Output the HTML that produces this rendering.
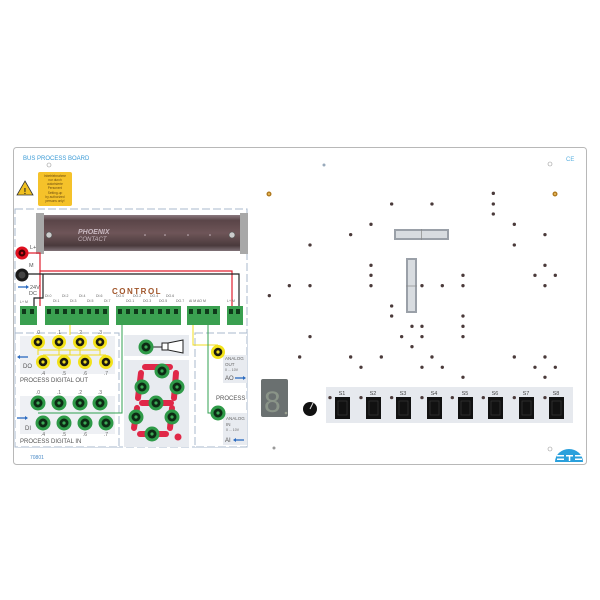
<!DOCTYPE html>
<html><head><meta charset="utf-8"><style>
html,body{margin:0;padding:0;background:#fff;width:600px;height:600px;overflow:hidden}
svg{display:block}
text{font-family:"Liberation Sans",sans-serif}
</style></head><body>
<svg width="600" height="600" viewBox="0 0 600 600" xmlns="http://www.w3.org/2000/svg">
<defs>
<linearGradient id="rail" x1="0" y1="0" x2="0" y2="1">
<stop offset="0" stop-color="#8c7a80"/><stop offset="0.15" stop-color="#5a4548"/><stop offset="0.5" stop-color="#6e5558"/><stop offset="0.85" stop-color="#4a3a3c"/><stop offset="1" stop-color="#807278"/>
</linearGradient>
<g id="jy"><circle r="7" fill="#f2e21a"/><circle r="4.3" fill="#1a1a10"/><circle r="1.6" fill="#e8d820"/></g>
<g id="jg"><circle r="7.5" fill="#2e9a48"/><circle r="4.5" fill="#0d2a14"/><circle r="1.6" fill="#3aa855"/></g>
</defs>
<!-- board -->
<rect x="13.5" y="147.5" width="573" height="317" rx="3" fill="#fff" stroke="#b8b8b8" stroke-width="1"/>
<text x="23" y="160" font-size="6" fill="#3a9ad6">BUS PROCESS BOARD</text>
<text x="566" y="161" font-size="6" fill="#5ab0e0">CE</text>
<text x="30" y="459" font-size="5" fill="#4a8ac6">70801</text>
<circle cx="49" cy="165" r="2" fill="none" stroke="#999" stroke-width="0.6"/>
<circle cx="324" cy="165" r="1.5" fill="#9ab"/>
<circle cx="550" cy="164" r="2" fill="none" stroke="#999" stroke-width="0.6"/>
<circle cx="274" cy="448" r="1.5" fill="#999"/>
<circle cx="550" cy="449" r="2" fill="none" stroke="#999" stroke-width="0.6"/>
<!-- warning -->
<polygon points="25,181 33,195 17,195" fill="#f0c020" stroke="#333" stroke-width="0.8"/>
<text x="25" y="194" font-size="8" text-anchor="middle" font-weight="bold" fill="#222">!</text>
<rect x="38" y="172" width="34" height="34" rx="2" fill="#f5c22a"/>
<g font-size="3.2" fill="#6a4a10" text-anchor="middle">
<text x="55" y="177">Inbetriebnahme</text><text x="55" y="181">nur durch</text><text x="55" y="185">autorisierte</text><text x="55" y="189">Personen!</text><text x="55" y="194">Setting-up</text><text x="55" y="198">by authorized</text><text x="55" y="202">persons only!</text>
</g>
<!-- control area dashed -->
<rect x="15" y="209" width="232" height="238" fill="#fff" stroke="#a8b8cc" stroke-width="1" stroke-dasharray="8,3"/>
<!-- rail -->
<rect x="43" y="215" width="198" height="36" fill="url(#rail)"/>
<rect x="36" y="213" width="8" height="41" fill="#a8a8a8"/>
<rect x="240" y="213" width="8" height="41" fill="#a8a8a8"/>
<circle cx="49" cy="235" r="3" fill="#ccc" stroke="#555" stroke-width="0.6"/>
<circle cx="232" cy="235" r="3" fill="#ccc" stroke="#555" stroke-width="0.6"/>
<text x="78" y="234" font-size="7" fill="#c8b8c0" font-weight="bold" font-style="italic">PHOENIX</text>
<text x="78" y="241" font-size="6" fill="#c8b8c0" font-style="italic">CONTACT</text>
<g fill="#c8b8c0"><circle cx="145" cy="235" r="0.8"/><circle cx="165" cy="235" r="0.8"/><circle cx="188" cy="235" r="0.8"/><circle cx="210" cy="235" r="0.8"/></g>
<!-- power jacks -->
<text x="30" y="249" font-size="5.5" fill="#555">L+</text>
<text x="29" y="267" font-size="5.5" fill="#555">M</text>
<path d="M22,253 H40 V306" fill="none" stroke="#e02030" stroke-width="1.2"/>
<path d="M40,271 H232 V306" fill="none" stroke="#e02030" stroke-width="1.2"/>
<path d="M22,274 H239 V306" fill="none" stroke="#222" stroke-width="1.2"/>
<path d="M43,274 V298 H34 V306" fill="none" stroke="#222" stroke-width="1.2"/>
<circle cx="22" cy="253" r="6.5" fill="#e01020"/><circle cx="22" cy="253" r="3.5" fill="#400"/><circle cx="22" cy="253" r="1.3" fill="#e01020"/>
<circle cx="22" cy="275" r="6.5" fill="#1a1a1a"/><circle cx="22" cy="275" r="3.5" fill="#444"/>
<path d="M18,287 H26" stroke="#2a6ac0" stroke-width="1.3"/><polygon points="26,285 29,287 26,289" fill="#2a6ac0"/>
<text x="30" y="289" font-size="5.5" fill="#555">24V</text><text x="29" y="295" font-size="5.5" fill="#555">DC</text>
<text x="112" y="294" font-size="8" font-weight="bold" fill="#a0552a" letter-spacing="1.5">CONTROL</text>
<!-- terminal labels -->
<g font-size="3.5" fill="#666">
<text x="20" y="303">L+ M</text>
<text x="45" y="297">DI.0</text><text x="62" y="297">DI.2</text><text x="79" y="297">DI.4</text><text x="96" y="297">DI.6</text>
<text x="53" y="302">DI.1</text><text x="70" y="302">DI.3</text><text x="87" y="302">DI.5</text><text x="104" y="302">DI.7</text>
<text x="116" y="297">DO.0</text><text x="133" y="297">DO.2</text><text x="150" y="297">DO.4</text><text x="166" y="297">DO.6</text>
<text x="126" y="302">DO.1</text><text x="143" y="302">DO.3</text><text x="159" y="302">DO.5</text><text x="176" y="302">DO.7</text>
<text x="189" y="302">AI  M  AO  M</text><text x="227" y="302">L+ M</text>
</g>
<!-- terminals -->
<g fill="#3aa050">
<rect x="20" y="306" width="17" height="19"/><rect x="45" y="306" width="64" height="19"/><rect x="116" y="306" width="65" height="19"/><rect x="187" y="306" width="33" height="19"/><rect x="227" y="306" width="16" height="19"/>
</g>
<g fill="#0f3a1a">
<rect x="22" y="309" width="4" height="5"/><rect x="30" y="309" width="4" height="5"/>
<rect x="47" y="309" width="4" height="5"/><rect x="55" y="309" width="4" height="5"/><rect x="63" y="309" width="4" height="5"/><rect x="71" y="309" width="4" height="5"/><rect x="79" y="309" width="4" height="5"/><rect x="87" y="309" width="4" height="5"/><rect x="95" y="309" width="4" height="5"/><rect x="103" y="309" width="4" height="5"/>
<rect x="118" y="309" width="4" height="5"/><rect x="126" y="309" width="4" height="5"/><rect x="134" y="309" width="4" height="5"/><rect x="142" y="309" width="4" height="5"/><rect x="150" y="309" width="4" height="5"/><rect x="158" y="309" width="4" height="5"/><rect x="166" y="309" width="4" height="5"/><rect x="174" y="309" width="4" height="5"/>
<rect x="189" y="309" width="4" height="5"/><rect x="197" y="309" width="4" height="5"/><rect x="205" y="309" width="4" height="5"/><rect x="213" y="309" width="4" height="5"/>
<rect x="229" y="309" width="4" height="5"/><rect x="236" y="309" width="4" height="5"/>
</g>
<!-- lower panels -->
<rect x="15" y="333" width="104" height="114" fill="#fff" stroke="#a8b8cc" stroke-dasharray="8,3"/>
<rect x="20" y="336" width="95" height="38" fill="#eef0f4"/>
<rect x="20" y="396" width="95" height="38" fill="#eef0f4"/>
<rect x="124" y="335" width="65" height="21" fill="#e8ebf0"/>
<rect x="124" y="360" width="65" height="87" fill="#e8ebf0"/>
<rect x="195" y="333" width="52" height="114" fill="#fff" stroke="#a8b8cc" stroke-dasharray="8,3"/>
<rect x="223" y="355" width="24" height="28" fill="#e8ebf0"/>
<rect x="223" y="413" width="24" height="32" fill="#e8ebf0"/>
<!-- wires lower -->
<path d="M70,325 V335 M38,350 H100 M43,355 H106 M70,350 V355" stroke="#f0dc20" stroke-width="1" fill="none"/>
<path d="M38,342 V355 M59,342 V355 M80,342 V355 M100,342 V355" stroke="#f0dc20" stroke-width="1"/>
<path d="M193,325 V345 H218" stroke="#f0dc20" stroke-width="1" fill="none"/>
<path d="M208,325 V413 H218" stroke="#30a050" stroke-width="1" fill="none"/>
<path d="M122,325 V413 H38" stroke="#30a050" stroke-width="1" fill="none"/>
<!-- DO/DI labels -->
<g font-size="5" fill="#666" text-anchor="middle">
<text x="38" y="334">.0</text><text x="59" y="334">.1</text><text x="80" y="334">.2</text><text x="100" y="334">.3</text>
<text x="43" y="375">.4</text><text x="64" y="375">.5</text><text x="85" y="375">.6</text><text x="106" y="375">.7</text>
<text x="38" y="394">.0</text><text x="59" y="394">.1</text><text x="80" y="394">.2</text><text x="100" y="394">.3</text>
<text x="43" y="436">.4</text><text x="64" y="436">.5</text><text x="85" y="436">.6</text><text x="106" y="436">.7</text>
</g>
<path d="M20,357 H28" stroke="#2a6ac0" stroke-width="1.3"/><polygon points="20,355 17,357 20,359" fill="#2a6ac0"/>
<text x="23" y="368" font-size="6" fill="#555">DO</text>
<text x="20" y="382" font-size="6" fill="#555">PROCESS DIGITAL OUT</text>
<path d="M17,418 H25" stroke="#2a6ac0" stroke-width="1.3"/><polygon points="25,416 28,418 25,420" fill="#2a6ac0"/>
<text x="25" y="430" font-size="6" fill="#555">DI</text>
<text x="20" y="443" font-size="6" fill="#555">PROCESS DIGITAL IN</text>
<use href="#jy" x="38" y="342"/><use href="#jy" x="59" y="342"/><use href="#jy" x="80" y="342"/><use href="#jy" x="100" y="342"/>
<use href="#jy" x="43" y="362"/><use href="#jy" x="64" y="362"/><use href="#jy" x="85" y="362"/><use href="#jy" x="106" y="362"/>
<use href="#jg" x="38" y="403"/><use href="#jg" x="59" y="403"/><use href="#jg" x="80" y="403"/><use href="#jg" x="100" y="403"/>
<use href="#jg" x="43" y="423"/><use href="#jg" x="64" y="423"/><use href="#jg" x="85" y="423"/><use href="#jg" x="106" y="423"/>
<!-- speaker -->
<path d="M146,347 H162" stroke="#222" stroke-width="1"/>
<rect x="162" y="343" width="6" height="7" fill="#fff" stroke="#222" stroke-width="1"/>
<polygon points="168,343 183,340 183,353 168,350" fill="#fff" stroke="#222" stroke-width="1"/>
<use href="#jg" x="146" y="347"/>
<!-- 7-seg -->
<g stroke="#e02848" stroke-width="6" stroke-linecap="round" fill="none">
<path d="M145,367 H170"/><path d="M141,373 L138,398"/><path d="M176,373 L174,398"/><path d="M142,403 H171"/><path d="M137,408 L134,428"/><path d="M172,408 L170,428"/><path d="M140,434 H166"/>
</g>
<circle cx="178" cy="437" r="3.5" fill="#e02848"/>
<use href="#jg" x="162" y="371"/><use href="#jg" x="142" y="387"/><use href="#jg" x="177" y="387"/><use href="#jg" x="156" y="403"/><use href="#jg" x="136" y="417"/><use href="#jg" x="172" y="417"/><use href="#jg" x="152" y="434"/>
<!-- analog -->
<use href="#jy" x="218" y="352"/><use href="#jg" x="218" y="413"/>
<g font-size="4.5" fill="#666"><text x="225" y="360">ANALOG</text><text x="225" y="366">OUT</text><text x="225" y="371" font-size="3.5">0 ... 10V</text>
<text x="226" y="420">ANALOG</text><text x="226" y="426">IN</text><text x="226" y="431" font-size="3.5">0 ... 10V</text></g>
<text x="225" y="380" font-size="6" fill="#555">AO</text><path d="M235,378 H243" stroke="#2a6ac0" stroke-width="1.3"/><polygon points="243,376 246,378 243,380" fill="#2a6ac0"/>
<text x="225" y="442" font-size="6" fill="#555">AI</text><path d="M236,440 H244" stroke="#2a6ac0" stroke-width="1.3"/><polygon points="236,438 233,440 236,442" fill="#2a6ac0"/>
<text x="216" y="400" font-size="6" fill="#555">PROCESS</text>
<!-- right side -->
<circle cx="269" cy="194" r="2.5" fill="#b07a20"/><circle cx="269" cy="194" r="1" fill="#f0c060"/>
<circle cx="555" cy="194" r="2.5" fill="#b07a20"/><circle cx="555" cy="194" r="1" fill="#f0c060"/>
<rect x="394" y="229" width="55" height="11" fill="#9aa0a8"/><rect x="396" y="231" width="51" height="7" fill="#d8dce0"/><path d="M421.5,229 V240" stroke="#888" stroke-width="0.7"/>
<rect x="406" y="258" width="11" height="55" fill="#9aa0a8"/><rect x="408" y="260" width="7" height="51" fill="#d8dce0"/><path d="M406,286 H417" stroke="#888" stroke-width="0.7"/>
<g transform="translate(250,140) scale(0.3333)" fill="#4a3a3a">
<circle cx="730" cy="160" r="5"/><circle cx="730" cy="192" r="5"/><circle cx="730" cy="222" r="5"/><circle cx="425" cy="192" r="5"/><circle cx="546" cy="192" r="5"/><circle cx="363" cy="253" r="5"/><circle cx="793" cy="253" r="5"/><circle cx="302" cy="284" r="5"/><circle cx="885" cy="284" r="5"/><circle cx="180" cy="315" r="5"/><circle cx="793" cy="315" r="5"/><circle cx="363" cy="376" r="5"/><circle cx="885" cy="376" r="5"/><circle cx="363" cy="406" r="5"/><circle cx="639" cy="406" r="5"/><circle cx="855" cy="406" r="5"/><circle cx="916" cy="406" r="5"/><circle cx="118" cy="437" r="5"/><circle cx="180" cy="437" r="5"/><circle cx="363" cy="437" r="5"/><circle cx="516" cy="437" r="5"/><circle cx="577" cy="437" r="5"/><circle cx="639" cy="437" r="5"/><circle cx="885" cy="437" r="5"/><circle cx="58" cy="467" r="5"/><circle cx="425" cy="498" r="5"/><circle cx="425" cy="528" r="5"/><circle cx="639" cy="528" r="5"/><circle cx="486" cy="559" r="5"/><circle cx="516" cy="559" r="5"/><circle cx="639" cy="559" r="5"/><circle cx="180" cy="590" r="5"/><circle cx="455" cy="590" r="5"/><circle cx="516" cy="590" r="5"/><circle cx="639" cy="590" r="5"/><circle cx="486" cy="620" r="5"/><circle cx="149" cy="651" r="5"/><circle cx="302" cy="651" r="5"/><circle cx="394" cy="651" r="5"/><circle cx="546" cy="651" r="5"/><circle cx="793" cy="651" r="5"/><circle cx="885" cy="651" r="5"/><circle cx="333" cy="682" r="5"/><circle cx="516" cy="682" r="5"/><circle cx="577" cy="682" r="5"/><circle cx="855" cy="682" r="5"/><circle cx="916" cy="682" r="5"/><circle cx="639" cy="712" r="5"/><circle cx="885" cy="712" r="5"/>
</g>
<!-- display & knob -->
<rect x="261" y="379" width="27" height="38" rx="2" fill="#6a7070"/>
<text x="264" y="412" font-size="30" fill="#8a9488" font-family="Liberation Mono,monospace">8</text>
<circle cx="286" cy="413" r="1.3" fill="#9aa090"/>
<circle cx="310" cy="409" r="7" fill="#111"/><path d="M310,409 L313,403" stroke="#ddd" stroke-width="1"/>
<!-- switches -->
<rect x="326" y="387" width="247" height="36" fill="#e6e9ee"/>
<g fill="#4a3a3a" transform="translate(250,140) scale(0.3333)">
<circle cx="240" cy="773" r="5"/><circle cx="333" cy="773" r="5"/><circle cx="425" cy="773" r="5"/><circle cx="516" cy="773" r="5"/><circle cx="607" cy="773" r="5"/><circle cx="700" cy="773" r="5"/><circle cx="793" cy="773" r="5"/><circle cx="885" cy="773" r="5"/>
</g>
<g font-size="5.5" fill="#444" text-anchor="middle">
<text x="342" y="395">S1</text><text x="373" y="395">S2</text><text x="403" y="395">S3</text><text x="434" y="395">S4</text><text x="465" y="395">S5</text><text x="495" y="395">S6</text><text x="526" y="395">S7</text><text x="556" y="395">S8</text>
</g>
<g fill="#111">
<rect x="335" y="397" width="15" height="22"/><rect x="366" y="397" width="15" height="22"/><rect x="396" y="397" width="15" height="22"/><rect x="427" y="397" width="15" height="22"/><rect x="458" y="397" width="15" height="22"/><rect x="488" y="397" width="15" height="22"/><rect x="519" y="397" width="15" height="22"/><rect x="549" y="397" width="15" height="22"/>
</g>
<g fill="none" stroke="#333" stroke-width="0.8">
<rect x="338" y="401" width="9" height="14"/><rect x="369" y="401" width="9" height="14"/><rect x="399" y="401" width="9" height="14"/><rect x="430" y="401" width="9" height="14"/><rect x="461" y="401" width="9" height="14"/><rect x="491" y="401" width="9" height="14"/><rect x="522" y="401" width="9" height="14"/><rect x="552" y="401" width="9" height="14"/>
</g>
<!-- ETS logo -->
<path d="M555,462 A14,13 0 0 1 583,462 Z" fill="#2aa0dc"/>
<g fill="#fff"><rect x="557" y="455" width="7" height="1.5"/><rect x="557" y="458.5" width="7" height="1.5"/><rect x="566" y="455" width="7" height="1.5"/><rect x="568.8" y="455" width="1.5" height="6"/><rect x="575" y="455" width="7" height="1.5"/><rect x="575" y="458.5" width="7" height="1.5"/></g>
</svg>
</body></html>
